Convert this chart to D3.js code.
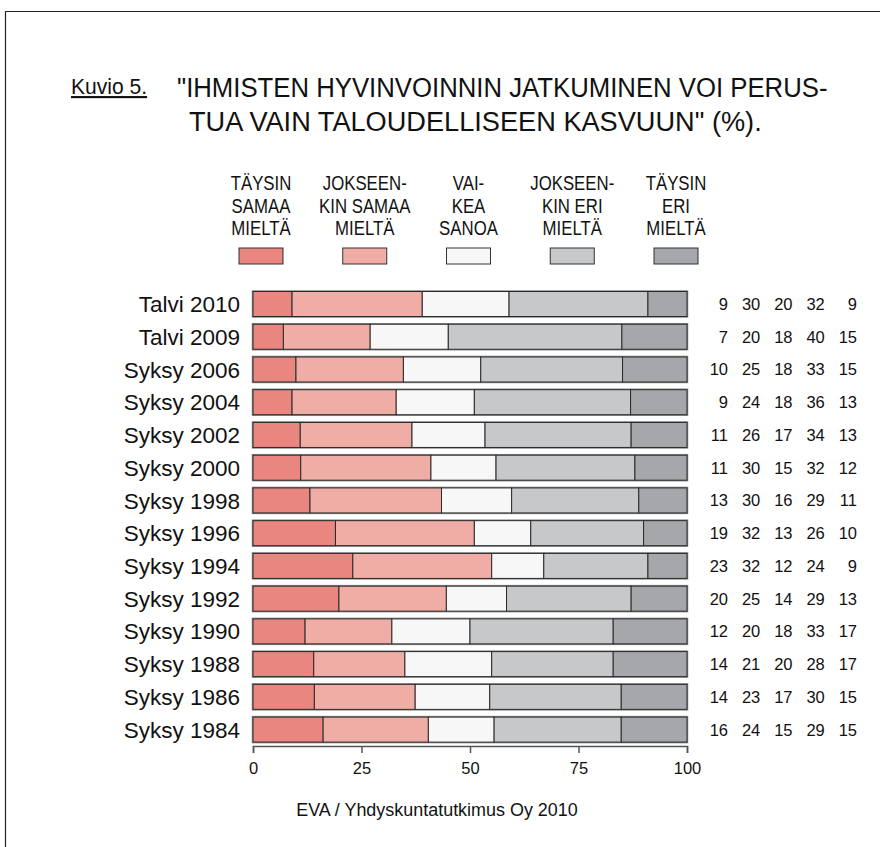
<!DOCTYPE html>
<html>
<head>
<meta charset="utf-8">
<script src="https://cdn.jsdelivr.net/npm/d3@7"></script>
<style>
body { margin: 0; background: #fff; }
svg text { font-family: "Liberation Sans", Arial, sans-serif; fill: #111; }
</style>
</head>
<body>
<script>
// rows, top to bottom
var rows = ["Talvi 2010", "Talvi 2009", "Syksy 2006", "Syksy 2004", "Syksy 2002", "Syksy 2000",
    "Syksy 1998", "Syksy 1996", "Syksy 1994", "Syksy 1992", "Syksy 1990", "Syksy 1988",
    "Syksy 1986", "Syksy 1984"];

// answer shares (%) per row
var taysinSamaa     = [9, 7, 10, 9, 11, 11, 13, 19, 23, 20, 12, 14, 14, 16];
var jokseenkinSamaa = [30, 20, 25, 24, 26, 30, 30, 32, 32, 25, 20, 21, 23, 24];
var vaikeaSanoa     = [20, 18, 18, 18, 17, 15, 16, 13, 12, 14, 18, 20, 17, 15];
var jokseenkinEri   = [32, 40, 33, 36, 34, 32, 29, 26, 24, 29, 33, 28, 30, 29];
var taysinEri       = [9, 15, 15, 13, 13, 12, 11, 10, 9, 13, 17, 17, 15, 15];

var legendLabels = [
    ["TÄYSIN", "SAMAA", "MIELTÄ"],
    ["JOKSEEN-", "KIN SAMAA", "MIELTÄ"],
    ["VAI-", "KEA", "SANOA"],
    ["JOKSEEN-", "KIN ERI", "MIELTÄ"],
    ["TÄYSIN", "ERI", "MIELTÄ"]
];
var xTicks = [0, 25, 50, 75, 100];

var keys = ["ts", "js", "vs", "je", "te"],
    colors = ["#e8867f", "#f0ada5", "#f7f7f7", "#c7c8ca", "#a6a7aa"],
    series = [taysinSamaa, jokseenkinSamaa, vaikeaSanoa, jokseenkinEri, taysinEri];

var width = 880, height = 847;

var svg = d3.select("body").append("svg")
    .attr("width", width)
    .attr("height", height);

// frame (runs off the right and bottom edge)
svg.append("path")
    .attr("d", "M5.5,847V11.5H880")
    .attr("fill", "none")
    .attr("stroke", "#222")
    .attr("stroke-width", 1.2);

// narrow text: regular font squeezed horizontally
function narrow(g, x, y, txt, size, sx, anchor) {
    return g.append("text")
        .attr("transform", "translate(" + x + "," + y + ") scale(" + sx + ",1)")
        .attr("text-anchor", anchor || "start")
        .style("font-size", size + "px")
        .text(txt);
}

// squeeze a text so that it spans the given width
function fitWidth(t, x, y, w) {
    var len = t.node().getComputedTextLength();
    t.attr("transform", "translate(" + x + "," + y + ") scale(" + (w / len) + ",1)");
}

// title
var kuvio = narrow(svg, 71, 94, "Kuvio 5.", 21.5, 0.98);
kuvio.style("text-decoration", "underline");
var t1 = narrow(svg, 177, 97, "\"IHMISTEN HYVINVOINNIN JATKUMINEN VOI PERUS-", 28, 1);
fitWidth(t1, 177, 97, 651);
var t2 = narrow(svg, 189, 131, "TUA VAIN TALOUDELLISEEN KASVUUN\" (%).", 28, 1);
fitWidth(t2, 189, 131, 573);

// data table for the stack
var data = rows.map(function (r, i) {
    var o = { row: r };
    keys.forEach(function (k, j) { o[k] = series[j][i]; });
    return o;
});

var stacked = d3.stack().keys(keys).offset(d3.stackOffsetExpand)(data);

var x = d3.scaleLinear().domain([0, 100]).range([253, 687]);
var y = d3.scaleBand().domain(rows).range([291.5, 742.1]).paddingInner(0.236).paddingOuter(0);

// legend
var lx = d3.scalePoint().domain(keys).range([261, 676]);
var legend = svg.append("g");
keys.forEach(function (k, j) {
    legendLabels[j].forEach(function (line, li) {
        narrow(legend, lx(k), 190 + li * 22.5, line, 20, 0.84, "middle");
    });
    legend.append("rect")
        .attr("x", lx(k) - 22)
        .attr("y", 248)
        .attr("width", 44)
        .attr("height", 16)
        .attr("fill", colors[j])
        .attr("stroke", "#333")
        .attr("stroke-width", 1);
});

// bar outlines (soft gray edge)
svg.append("g").selectAll("rect")
    .data(rows)
    .join("rect")
    .attr("x", x(0))
    .attr("y", function (d) { return y(d); })
    .attr("width", x(100) - x(0))
    .attr("height", y.bandwidth())
    .attr("fill", "none")
    .attr("stroke", "#8c8c8c")
    .attr("stroke-width", 2.5);

// bars
svg.append("g").selectAll("g")
    .data(stacked)
    .join("g")
    .attr("fill", function (d, i) { return colors[i]; })
    .selectAll("rect")
    .data(function (d) { return d; })
    .join("rect")
    .attr("x", function (d) { return x(d[0] * 100); })
    .attr("y", function (d) { return y(d.data.row); })
    .attr("width", function (d) { return x(d[1] * 100) - x(d[0] * 100); })
    .attr("height", y.bandwidth())
    .attr("stroke", "#2a2a2a")
    .attr("stroke-width", 1);

// row labels
svg.append("g").selectAll("text")
    .data(rows)
    .join("text")
    .attr("x", 240)
    .attr("y", function (d) { return y(d) + y.bandwidth() / 2; })
    .attr("dy", "0.36em")
    .attr("text-anchor", "end")
    .style("font-size", "22.5px")
    .text(function (d) { return d; });

// number columns on the right
var cx = d3.scalePoint().domain(keys).range([728, 857]);
var nums = svg.append("g");
keys.forEach(function (k, j) {
    nums.selectAll("text.c" + j)
        .data(series[j])
        .join("text")
        .attr("class", "c" + j)
        .attr("x", cx(k))
        .attr("y", function (d, i) { return y(rows[i]) + y.bandwidth() / 2; })
        .attr("dy", "0.36em")
        .attr("text-anchor", "end")
        .style("font-size", "16.5px")
        .text(function (d) { return d; });
});

// axis
var axis = svg.append("g")
    .attr("transform", "translate(0,746)")
    .call(d3.axisBottom(x).tickValues(xTicks).tickSize(7).tickPadding(9));
axis.select(".domain").attr("stroke", "#555").attr("stroke-width", 1.5);
axis.selectAll(".tick line").attr("stroke", "#555").attr("stroke-width", 1.5);
axis.selectAll(".tick text")
    .style("font-family", "\"Liberation Sans\", Arial, sans-serif")
    .style("font-size", "16.5px")
    .attr("fill", "#111");

// source
narrow(svg, 437, 816, "EVA / Yhdyskuntatutkimus Oy 2010", 18.5, 0.97, "middle");
</script>
</body>
</html>
